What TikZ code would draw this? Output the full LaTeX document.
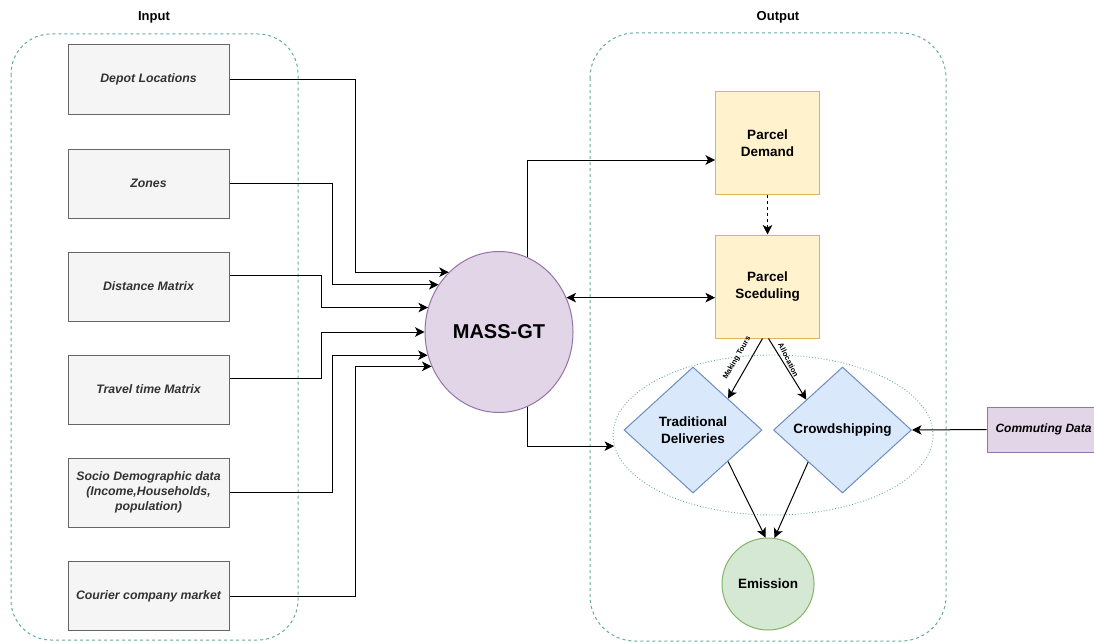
\documentclass[tikz,border=0pt]{standalone}
\usepackage{fontspec}
\setmainfont{Liberation Sans}
\usetikzlibrary{shapes.geometric,arrows.meta,calc}
\definecolor{inbd}{HTML}{666666}
\definecolor{infill}{HTML}{F5F5F5}
\definecolor{intext}{HTML}{333333}
\definecolor{purfill}{HTML}{E1D5E7}
\definecolor{purbd}{HTML}{9673A6}
\definecolor{yelfill}{HTML}{FFF2CC}
\definecolor{yelbd}{HTML}{D6B656}
\definecolor{blufill}{HTML}{DAE8FC}
\definecolor{blubd}{HTML}{6C8EBF}
\definecolor{grnfill}{HTML}{D5E8D4}
\definecolor{grnbd}{HTML}{82B366}
\definecolor{teal}{HTML}{67AB9F}
\tikzset{
  inbox/.style={draw=inbd, fill=infill, line width=1pt, minimum width=161pt, minimum height=69pt,
    inner sep=0pt, align=center, text=intext, font=\fontsize{12.3}{14.8}\selectfont\bfseries\itshape},
  pbox/.style={draw=yelbd, fill=yelfill, line width=1pt, minimum width=104pt, minimum height=103pt,
    inner sep=0pt, align=center, font=\fontsize{13.5}{16.5}\selectfont\bfseries},
  dmd/.style={diamond, draw=blubd, fill=blufill, line width=1pt, minimum width=138pt, minimum height=126pt,
    inner sep=0pt, align=center, font=\fontsize{13.5}{16.5}\selectfont\bfseries},
  container/.style={draw=teal, line width=1pt, dash pattern=on 3pt off 3pt},
  arr/.style={draw=black, line width=1pt, -{Stealth[length=9.5pt,width=9.5pt,inset=2.5pt]}},
  arrb/.style={draw=black, line width=1pt, {Stealth[length=9.5pt,width=9.5pt,inset=2.5pt]}-{Stealth[length=9.5pt,width=9.5pt,inset=2.5pt]}},
  lbl/.style={inner sep=0pt, font=\fontsize{7.5}{9}\selectfont\bfseries},
  ttl/.style={inner sep=0pt, font=\fontsize{13}{15}\selectfont\bfseries},
}
\begin{document}
\begin{tikzpicture}[x=1pt,y=-1pt]
\clip (0,0) rectangle (1094,642);
\fill[white] (0,0) rectangle (1094,642);

% containers
\draw[container, rounded corners=40pt] (11,34) rectangle (298,640);
\draw[container, rounded corners=45pt] (590,33) rectangle (946,641);
\node[ttl] (tin) at (154,17) {Input};
\node[ttl] (tout) at (778,17) {Output};

% input boxes
\node[inbox] (depot) at (148.5,79.5) {Depot Locations};
\node[inbox] (zones) at (148.5,183.5) {Zones};
\node[inbox] (dist) at (148.5,286.5) {Distance Matrix};
\node[inbox] (travel) at (148.5,389.5) {Travel time Matrix};
\node[inbox] (socio) at (148.5,492.5) {Socio Demographic data\\(Income,Households,\\population)};
\node[inbox] (courier) at (148.5,596) {Courier company market};

% MASS-GT
\node[ellipse, draw=purbd, fill=purfill, line width=1pt, minimum width=148pt, minimum height=161pt, inner sep=0pt,
  font=\fontsize{20}{24}\selectfont\bfseries] (mass) at (499,332) {MASS-GT};

\coordinate (c355) at (355,0);
\coordinate (c332) at (332,0);
\coordinate (c321) at (321,0);

\draw[arr] (depot.east) -| (c355 |- mass.130) -- (mass.130);
\draw[arr] (zones.east) -| (c332 |- mass.142) -- (mass.142);
\draw[arr] ([yshift=11pt]dist.east) -| (c321 |- mass.161) -- (mass.161);
\draw[arr] ([yshift=11pt]travel.east) -| (c321 |- mass.180) -- (mass.180);
\draw[arr] (socio.east) -| (c332 |- mass.198) -- (mass.198);
\draw[arr] (courier.east) -| (c355 |- mass.207) -- (mass.207);

% cluster ellipse
\node[ellipse, draw=teal, line width=0.9pt, dotted, minimum width=320pt, minimum height=160pt, inner sep=0pt] (cluster) at (773,435) {};

% parcel boxes
\node[pbox] (pdem) at (767.5,143) {Parcel\\Demand};
\node[pbox] (sched) at (767.5,286.5) {Parcel\\Sceduling};

% diamonds
\node[dmd] (trad) at (693,430) {Traditional\\Deliveries};
\node[dmd] (crowd) at (842.5,430) {Crowdshipping};

% emission
\node[circle, draw=grnbd, fill=grnfill, line width=1pt, minimum size=92pt, inner sep=0pt,
  font=\fontsize{13.5}{16.5}\selectfont\bfseries] (emis) at (768,584) {Emission};

% commuting data
\node[draw=purbd, fill=purfill, line width=1pt, minimum width=113pt, minimum height=45pt, inner sep=0pt,
  font=\fontsize{12}{14.5}\selectfont\bfseries\itshape] (comm) at (1043.5,429.5) {Commuting Data};

% connectors
\draw[arr] (mass.69) |- ([yshift=-17pt]pdem.west);
\draw[arr, dash pattern=on 3pt off 3pt] (pdem.south) -- (sched.north);
\draw[arrb] (mass.27) -- (mass.27 -| sched.west);
\draw[arr] (mass.-69) |- (cluster.184);
\draw[arr] ([xshift=-5pt]sched.south) -- (trad.42);
\draw[arr] ([xshift=1pt]sched.south) -- (crowd.140);
\node[lbl, rotate=60.5] (mt) at (737,358) {Making Tours};
\node[lbl, rotate=-63.4] (al) at (788.5,360) {Allocation};
\draw[arr] (trad.-42) -- (emis.93);
\draw[arr] (crowd.223) -- (emis.82);
\draw[arr] (comm.west) -- (crowd.east);
\end{tikzpicture}
\end{document}
